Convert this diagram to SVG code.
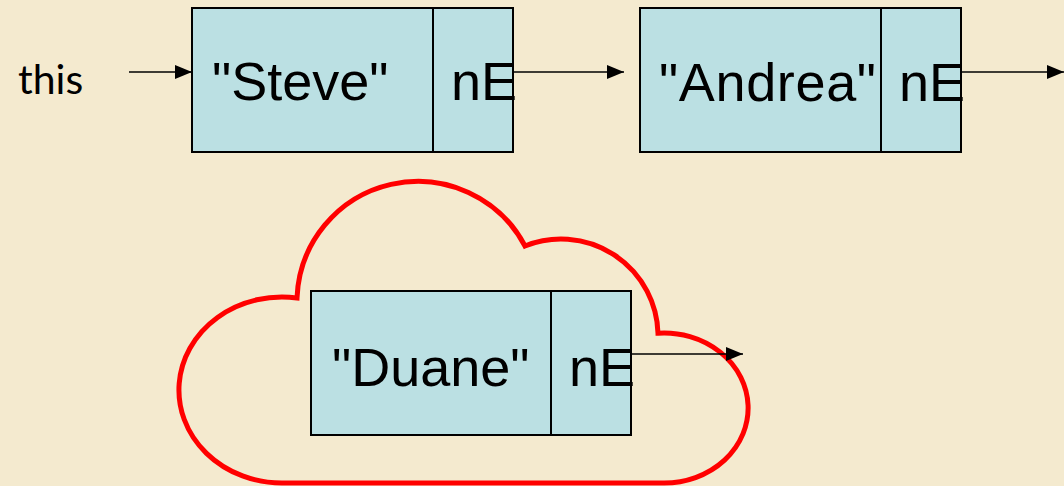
<svg xmlns="http://www.w3.org/2000/svg" width="1064" height="486" viewBox="0 0 1064 486">
  <style>
    .cell { fill: #bbe0e3; stroke: #000; stroke-width: 2; }
    .val { font-family: "Liberation Sans", Arial, sans-serif; font-size: 54px; fill: #000; }
    .lbl { font-family: Lato, "Open Sans", sans-serif; font-size: 41px; fill: #000; }
    .link { stroke: #000; stroke-width: 1.6; fill: none; marker-end: url(#head); }
    .cloud { fill: none; stroke: #ff0000; stroke-width: 5; stroke-linejoin: miter; }
  </style>
  <defs>
    <marker id="head" markerUnits="userSpaceOnUse" markerWidth="18" markerHeight="14" refX="17" refY="7" orient="auto">
      <path d="M0,0 L17,7 L0,14 Z" fill="#000"/>
    </marker>
  </defs>

  <rect width="1064" height="486" fill="#f4eacf"/>

  <!-- cloud outline around the detached node -->
  <g id="cloud">
    <path class="cloud" d="M297,298 A121 121 0 0 1 525,246 A97 97 0 0 1 658,333.2 A84 75 0 1 1 664,483 L282,483 A103 93 0 1 1 297,298 Z"/>
  </g>

  <g id="this-label">
    <text class="lbl" x="18" y="94">this</text>
  </g>

  <g id="node-steve">
    <rect class="cell" x="192" y="8" width="321" height="144"/>
    <line x1="433" y1="8" x2="433" y2="152" stroke="#000" stroke-width="2"/>
    <text class="val" x="212" y="100">"Steve"</text>
    <text class="val" x="451" y="100">nE</text>
  </g>

  <g id="node-andrea">
    <rect class="cell" x="640" y="8" width="321" height="144"/>
    <line x1="881" y1="8" x2="881" y2="152" stroke="#000" stroke-width="2"/>
    <text class="val" x="659" y="101" textLength="217">"Andrea"</text>
    <text class="val" x="899" y="101">nE</text>
  </g>

  <g id="node-duane">
    <rect class="cell" x="311" y="291" width="320" height="144"/>
    <line x1="551" y1="291" x2="551" y2="435" stroke="#000" stroke-width="2"/>
    <text class="val" x="332" y="386">"Duane"</text>
    <text class="val" x="569" y="386">nE</text>
  </g>

  <g id="connectors">
    <line class="link" x1="129" y1="72" x2="192" y2="72"/>
    <line class="link" x1="513" y1="72" x2="624" y2="72"/>
    <line class="link" x1="961" y1="72" x2="1064" y2="72"/>
    <line class="link" x1="631" y1="354" x2="743" y2="354"/>
  </g>
</svg>
